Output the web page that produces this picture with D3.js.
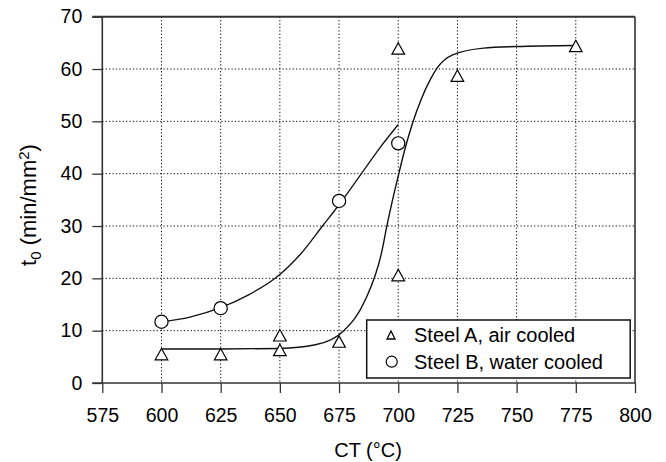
<!DOCTYPE html>
<html>
<head>
<meta charset="utf-8">
<script src="https://cdn.jsdelivr.net/npm/d3@7"></script>
<style>
  html, body { margin: 0; padding: 0; background: #fff; }
  svg { display: block; font-family: "Liberation Sans", Arial, Helvetica, sans-serif; }
</style>
</head>
<body>
<svg id="chart" width="666" height="462"></svg>
<script>
// ---- data ----
const xTicks = [575, 600, 625, 650, 675, 700, 725, 750, 775, 800];
const yTicks = [0, 10, 20, 30, 40, 50, 60, 70];

const steelA_CT = [600, 625, 650, 650, 675, 700, 700, 725, 775];
const steelA_t0 = [5.5, 5.5, 9.1, 6.3, 7.9, 63.9, 20.6, 58.7, 64.4];

const steelB_CT = [600, 625, 675, 700];
const steelB_t0 = [11.7, 14.3, 34.8, 45.8];

// fitted curves
const fitA_CT = [600, 625, 650, 665, 677, 686, 693, 695.1, 697.6, 700.5, 703, 706, 709.5, 713.8, 716.6, 723, 736, 750, 775];
const fitA_t0 = [6.5, 6.5, 6.6, 7.3, 10, 15.8, 25, 29.8, 35, 40.5, 45, 49.6, 54, 58.2, 60.3, 62.7, 64, 64.3, 64.5];

const fitB_CT = [600, 612, 625, 637, 648, 658.5, 668, 675.4, 685.2, 692, 700];
const fitB_t0 = [11.7, 12.6, 14.4, 16.9, 20, 24.5, 30, 34.3, 40.5, 44.8, 49.4];

const legendLabels = ["Steel A, air cooled", "Steel B, water cooled"];

// ---- layout ----
const svg = d3.select("#chart");
const x = d3.scaleLinear().domain([575, 800]).range([102.3, 635]);
const y = d3.scaleLinear().domain([0, 70]).range([383, 16.7]);
const pL = x.range()[0], pR = x.range()[1];
const pT = y.range()[1], pB = y.range()[0];
const frameColor = "#333";

// grid
const grid = svg.append("g");
grid.selectAll("line.vg").data(xTicks.slice(1, -1)).enter().append("line")
  .attr("x1", d => x(d)).attr("x2", d => x(d)).attr("y1", pT).attr("y2", pB)
  .attr("stroke", "#000").attr("stroke-width", 1).attr("stroke-dasharray", "1.2,2.2");
grid.selectAll("line.hg").data(yTicks.slice(1, -1)).enter().append("line")
  .attr("x1", pL).attr("x2", pR).attr("y1", d => y(d)).attr("y2", d => y(d))
  .attr("stroke", "#000").attr("stroke-width", 1).attr("stroke-dasharray", "1.2,2.2");

// axes
const xAxis = d3.axisBottom(x).tickValues(xTicks).tickSize(10).tickPadding(15).tickFormat(d3.format("d"));
const yAxis = d3.axisLeft(y).tickValues(yTicks).tickSize(10).tickPadding(10).tickFormat(d3.format("d"));

const gx = svg.append("g").attr("transform", `translate(0,${pB})`).call(xAxis);
const gy = svg.append("g").attr("transform", `translate(${pL},0)`).call(yAxis);
[gx, gy].forEach(g => {
  g.select(".domain").remove();
  g.selectAll(".tick line").attr("stroke", frameColor).attr("stroke-width", 1.3);
  g.selectAll(".tick text").attr("fill", "#000").style("font-size", "19.5px")
    .style("font-family", "'Liberation Sans', Arial, sans-serif");
});

// frame
svg.append("line").attr("x1", pL - 10).attr("x2", pR).attr("y1", pB).attr("y2", pB)
  .attr("stroke", frameColor).attr("stroke-width", 1.6);
svg.append("line").attr("x1", pL).attr("x2", pL).attr("y1", pT).attr("y2", pB)
  .attr("stroke", frameColor).attr("stroke-width", 1.6);
svg.append("line").attr("x1", pL - 10).attr("x2", pR).attr("y1", pT).attr("y2", pT)
  .attr("stroke", frameColor).attr("stroke-width", 2);
svg.append("line").attr("x1", pR).attr("x2", pR).attr("y1", pT).attr("y2", pB)
  .attr("stroke", frameColor).attr("stroke-width", 1.6);

// fit curves
const lineA = d3.line().x(d => x(d[0])).y(d => y(d[1])).curve(d3.curveMonotoneX);
const lineB = d3.line().x(d => x(d[0])).y(d => y(d[1])).curve(d3.curveCatmullRom.alpha(0.5));
svg.append("path").datum(d3.zip(fitA_CT, fitA_t0)).attr("d", lineA)
  .attr("fill", "none").attr("stroke", "#111").attr("stroke-width", 1.4);
svg.append("path").datum(d3.zip(fitB_CT, fitB_t0)).attr("d", lineB)
  .attr("fill", "none").attr("stroke", "#111").attr("stroke-width", 1.3);

// markers
const triPath = "M0,-5.8L6.3,5.6L-6.3,5.6Z";
svg.append("g").selectAll("path").data(d3.zip(steelA_CT, steelA_t0)).enter().append("path")
  .attr("d", triPath)
  .attr("transform", d => `translate(${x(d[0])},${y(d[1])})`)
  .attr("fill", "#fff").attr("stroke", "#000").attr("stroke-width", 1.2);
svg.append("g").selectAll("circle").data(d3.zip(steelB_CT, steelB_t0)).enter().append("circle")
  .attr("cx", d => x(d[0])).attr("cy", d => y(d[1])).attr("r", 6.6)
  .attr("fill", "#fff").attr("stroke", "#000").attr("stroke-width", 1.2);

// legend
const lg = svg.append("g");
lg.append("rect").attr("x", 366.7).attr("y", 320).attr("width", 263.5).attr("height", 58)
  .attr("fill", "#fff").attr("stroke", "#111").attr("stroke-width", 1.5);
lg.append("path").attr("d", "M0,-4.5L4,3.5L-4,3.5Z")
  .attr("transform", "translate(391,335.5)")
  .attr("fill", "none").attr("stroke", "#000").attr("stroke-width", 1.3);
lg.append("circle").attr("cx", 391.7).attr("cy", 361.7).attr("r", 5.5)
  .attr("fill", "none").attr("stroke", "#000").attr("stroke-width", 1.2);
lg.selectAll("text").data(legendLabels).enter().append("text")
  .attr("x", 414).attr("y", (d, i) => 342 + i * 26.5)
  .style("font-size", "20px").attr("fill", "#000").text(d => d);

// axis titles
svg.append("text").attr("x", 368).attr("y", 457).attr("text-anchor", "middle")
  .style("font-size", "20px").text("CT (°C)");

const yt = svg.append("text").attr("transform", "translate(35.5,205) rotate(-90)")
  .attr("text-anchor", "middle").style("font-size", "22px");
yt.append("tspan").text("t");
yt.append("tspan").attr("baseline-shift", "-30%").style("font-size", "15px").text("0");
yt.append("tspan").text(" (min/mm");
yt.append("tspan").attr("baseline-shift", "45%").style("font-size", "15px").text("2");
yt.append("tspan").text(")");
</script>
</body>
</html>
